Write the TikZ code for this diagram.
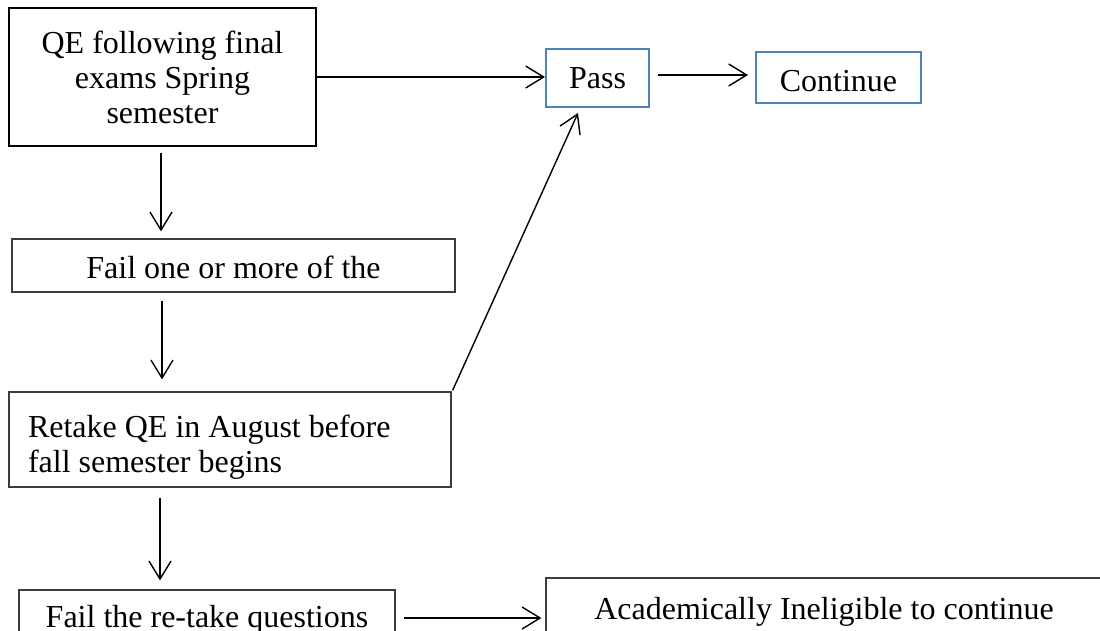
\documentclass[tikz,border=0pt]{standalone}
\usepackage{fontspec}
\setmainfont{Liberation Serif}
\usetikzlibrary{arrows.meta,calc}
\definecolor{boxblue}{RGB}{79,129,189}
\definecolor{thinline}{RGB}{60,60,60}
\tikzset{
  bx/.style={draw=thinline, line width=1.2pt, rectangle, inner sep=0pt, font=\fontsize{32}{35}\selectfont},
  bigbx/.style={bx, draw=black, line width=2.2pt},
  bluebx/.style={bx, draw=boxblue, line width=2pt},
  arr/.style={line width=1.4pt, -{Straight Barb[length=18pt,width=22pt,line width=1.4pt]}},
}
\begin{document}
\begin{tikzpicture}[x=1pt,y=-1pt]
\useasboundingbox (0,0) rectangle (1100,631);
\node[bigbx, minimum width=307pt, minimum height=138pt, align=center] (qe) at (162.5,77) {QE following final\\exams Spring\\semester};
\node[bluebx, minimum width=103pt, minimum height=58pt] (pass) at (597.5,78) {Pass};
\node[bluebx, minimum width=165pt, minimum height=51pt, text height=29pt, text depth=0pt] (cont) at (838.5,77.5) {Continue};
\node[bx, minimum width=443pt, minimum height=53pt, text height=25pt, text depth=0pt] (fail1) at (233.5,265.5) {Fail one or more of the};
\node[bx, minimum height=95pt, text width=404pt, inner xsep=19pt, align=flush left] (retake) at (230,439.5) {\rule{0pt}{38pt}Retake QE in August before\\fall semester begins};
\node[bx, minimum width=376pt, minimum height=60pt] (failre) at (207,620) {Fail the re-take questions};
\node[bx, minimum width=556pt, minimum height=68pt] (acad) at (824,612) {Academically Ineligible to continue};
% connectors
\draw[arr] (qe.east) -- (qe.east -| pass.west);
\draw[arr, shorten <=8pt, shorten >=7pt] ($(pass.east)+(0,-3)$) -- ($(pass.east -| cont.west)+(0,-3)$);
\draw[arr, shorten <=6pt, shorten >=7pt] ($(qe.south)+(-1.5,0)$) -- ($(qe.south |- fail1.north)+(-1.5,0)$);
\draw[arr, shorten <=8pt, shorten >=12pt] ($(qe.south |- fail1.south)+(-0.5,0)$) -- ($(qe.south |- retake.north)+(-0.5,0)$);
\draw[arr, shorten <=10pt, shorten >=9pt] ($(qe.south |- retake.south)+(-2.5,0)$) -- ($(qe.south |- failre.north)+(-2.5,0)$);
\draw[arr, shorten <=8pt, shorten >=4pt] ($(failre.east)+(0,-2)$) -- ($(failre.east -| acad.west)+(0,-2)$);
\draw[arr] ($(retake.north east)+(1,-1)$) -- ($(pass.south)+(-19.5,5)$);
\end{tikzpicture}
\end{document}
